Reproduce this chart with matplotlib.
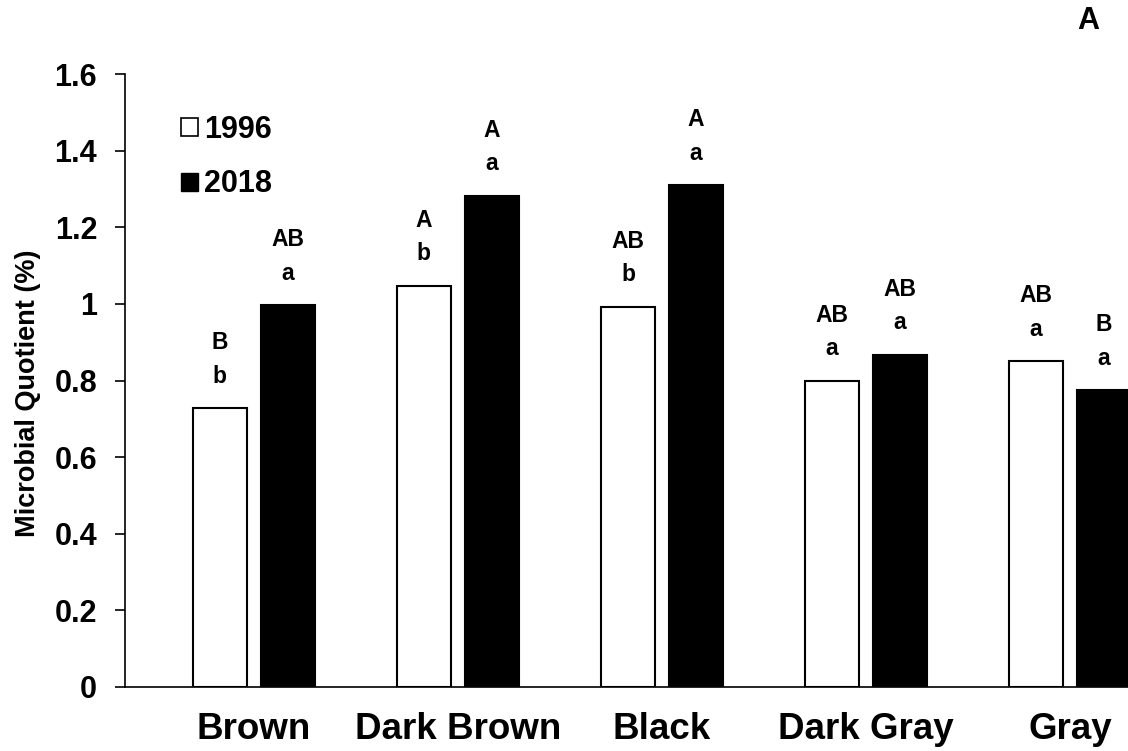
import numpy as np
import matplotlib
matplotlib.use("Agg")
import matplotlib.pyplot as plt
from matplotlib.patches import Patch

plt.rcParams["font.family"] = ["Liberation Sans", "DejaVu Sans"]
plt.rcParams["font.weight"] = "bold"

# soil colour classes and microbial quotient per survey year
soils = ["Brown", "Dark Brown", "Black", "Dark Gray", "Gray"]
mq_1996 = [0.728, 1.047, 0.992, 0.799, 0.851]
mq_2018 = [0.997, 1.282, 1.310, 0.867, 0.775]
# significance letters: upper = among soils, lower = between years
up_1996 = ["B", "A", "AB", "AB", "AB"]
lo_1996 = ["b", "b", "b", "a", "a"]
up_2018 = ["AB", "A", "A", "AB", "B"]
lo_2018 = ["a", "a", "a", "a", "a"]

fig = plt.figure(figsize=(11.28, 7.51), dpi=100)
ax = fig.add_axes([125/1128, 64/751, 1 - 125/1128, 613/751])

x = np.arange(len(soils))
w = 0.265
off = 0.1667
b1 = ax.bar(x - off, mq_1996, w, color="white", edgecolor="black", linewidth=1.5)
b2 = ax.bar(x + off, mq_2018, w, color="black", edgecolor="black", linewidth=1.5)

def letters(xs, vals, ups, los):
    for xi, v, u, l in zip(xs, vals, ups, los):
        ax.annotate(l, (xi, v), xytext=(0, 23), textcoords="offset points",
                    ha="center", va="center", fontsize=16.5, fontweight="bold")
        ax.annotate(u, (xi, v), xytext=(0, 47), textcoords="offset points",
                    ha="center", va="center", fontsize=16.5, fontweight="bold")

letters(x - off, mq_1996, up_1996, lo_1996)
letters(x + off, mq_2018, up_2018, lo_2018)

ax.set_xlim(-0.632, 4.284)
ax.set_ylim(0, 1.6)
yt = [0, 0.2, 0.4, 0.6, 0.8, 1, 1.2, 1.4, 1.6]
ax.set_yticks(yt)
ax.set_yticklabels(["0", "0.2", "0.4", "0.6", "0.8", "1", "1.2", "1.4", "1.6"],
                   fontsize=22, fontweight="bold")
ax.set_xticks(x)
ax.set_xticklabels(soils, fontsize=26.5, fontweight="bold")
ax.tick_params(axis="x", length=0, pad=18)
ax.tick_params(axis="y", direction="out", length=7, width=1.2, pad=13)

ax.spines["top"].set_visible(False)
ax.spines["right"].set_visible(False)
ax.spines["left"].set_linewidth(1.2)
ax.spines["bottom"].set_linewidth(1.2)

ax.set_ylabel("Microbial Quotient (%)", fontsize=19.5, fontweight="bold")
ax.yaxis.set_label_coords(-0.084, 0.48)

handles = [Patch(facecolor="white", edgecolor="black", linewidth=1.2),
           Patch(facecolor="black", edgecolor="black")]
leg = ax.legend(handles, ["1996", "2018"], loc="upper left",
                bbox_to_anchor=(0.028, 0.978), frameon=False,
                handlelength=0.56, handleheight=0.54, handletextpad=0.2,
                labelspacing=0.8, prop={"size": 22, "weight": "bold"})

fig.text(1088/1128, 1 - 21/751, "A", ha="center", va="center",
         fontsize=22, fontweight="bold")

fig.savefig("out.png", dpi=100)
